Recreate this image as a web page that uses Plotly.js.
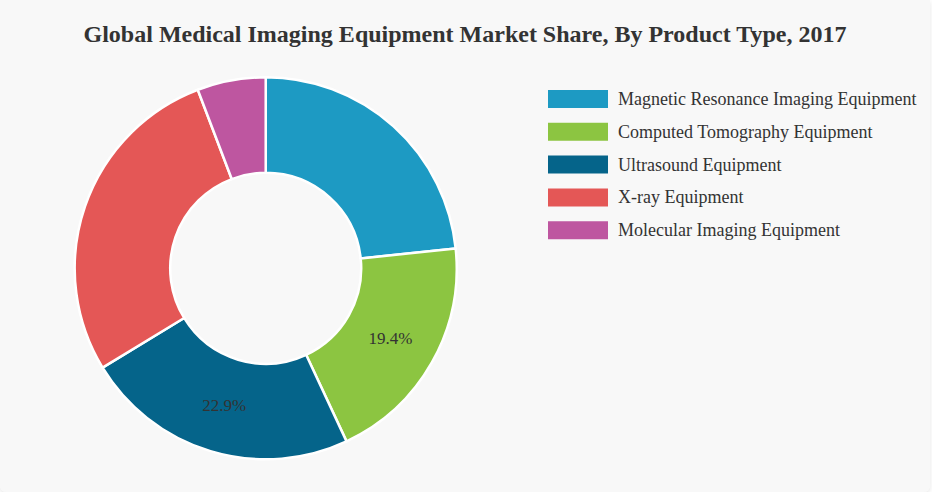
<!DOCTYPE html>
<html>
<head>
<meta charset="utf-8">
<script src="https://cdn.plot.ly/plotly-3.0.1.min.js"></script>
<style>
  html, body { margin: 0; padding: 0; background: #ffffff; }
  #wrap { width: 930px; height: 492px; background: #f8f8f8; border-radius: 0 0 6px 6px;
          box-shadow: 0 2px 5px rgba(0,0,0,0.10); overflow: hidden; }
  #chart { width: 930px; height: 492px; }
</style>
</head>
<body>
<div id="wrap"><div id="chart"></div></div>
<script>
// ---- data ----
var categories = [
  "Magnetic Resonance Imaging Equipment",
  "Computed Tomography Equipment",
  "Ultrasound Equipment",
  "X-ray Equipment",
  "Molecular Imaging Equipment"
];
var shareValues = [23.0, 19.4, 22.9, 27.5, 5.7];
var sliceLabels = ["", "19.4%", "22.9%", "", ""];
var sliceColors = ["#1d9ac3", "#8cc541", "#05648a", "#e45756", "#be56a0"];
var chartTitle = "Global Medical Imaging Equipment Market Share, By Product Type, 2017";

var W = 930, H = 492;
function px2x(p) { return p / W; }
function px2y(p) { return 1 - p / H; }

var trace = {
  type: "pie",
  labels: categories,
  values: shareValues,
  text: sliceLabels,
  textinfo: "text",
  textposition: "inside",
  insidetextorientation: "horizontal",
  hole: 0.5,
  sort: false,
  direction: "clockwise",
  rotation: 0,
  marker: { colors: sliceColors, line: { color: "#ffffff", width: 2.5 } },
  textfont: { family: "Liberation Serif, Times New Roman, serif", size: 17, color: "#333333" },
  domain: { x: [px2x(265.7 - 191), px2x(265.7 + 191)], y: [px2y(459.3), px2y(77.3)] },
  showlegend: false,
  hoverinfo: "label+value"
};

// custom legend built from the category arrays
var shapes = [], annotations = [];
var legX0 = 548, legW = 60, legH = 18, legY0 = 99, legDy = 32.8, textX = 616;
categories.forEach(function (c, i) {
  var cy = legY0 + i * legDy;
  shapes.push({
    type: "rect", xref: "paper", yref: "paper",
    x0: px2x(legX0), x1: px2x(legX0 + legW),
    y0: px2y(cy + legH / 2), y1: px2y(cy - legH / 2),
    fillcolor: sliceColors[i], line: { width: 0 }
  });
  annotations.push({
    xref: "paper", yref: "paper", x: px2x(textX), y: px2y(cy),
    xanchor: "left", yanchor: "middle", showarrow: false,
    text: c,
    font: { family: "Liberation Serif, Times New Roman, serif", size: 18, color: "#333333" }
  });
});

var layout = {
  width: W, height: H,
  paper_bgcolor: "#f8f8f8",
  plot_bgcolor: "#f8f8f8",
  margin: { l: 0, r: 0, t: 0, b: 0 },
  title: {
    text: "<b>" + chartTitle + "</b>",
    x: 0.5, xanchor: "center", xref: "paper",
    y: 1 - 34 / H, yanchor: "middle", yref: "container",
    font: { family: "Liberation Serif, Times New Roman, serif", size: 24, color: "#333333" }
  },
  shapes: shapes,
  annotations: annotations,
  showlegend: false
};

Plotly.newPlot("chart", [trace], layout, { displayModeBar: false, responsive: false });
</script>
</body>
</html>
